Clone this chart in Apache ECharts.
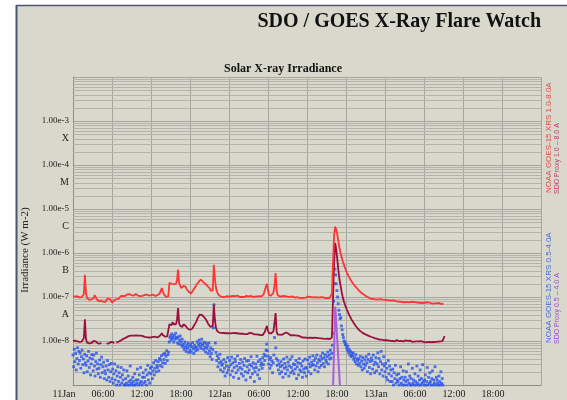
<!DOCTYPE html>
<html>
<head>
<meta charset="utf-8">
<script src="https://cdn.jsdelivr.net/npm/echarts@6/dist/echarts.min.js"></script>
<style>
  html, body { margin: 0; padding: 0; background: #fff; }
  #chart { width: 567px; height: 400px; }
</style>
</head>
<body>
<div id="chart"></div>
<script>
// all rows: one row per hour starting 11 Jan 00:00, samples evenly spaced inside the hour

// NOAA GOES-15 XRS 1.0-8.0 A, units of 1e-8 W m-2
const goesLongHourly = [
  [10.5, 9.8, 10.2, 9.6, 10.4, 10.0], [9.7, 10.3, 9.9, 10.6, 11.5, 32], [12, 9.6, 9.0, 8.6, 9.2, 8.8],
  [8.5, 9.4, 11, 10, 8.8, 8.2], [8.0, 7.6, 8.2, 7.4, 7.8, 7.5], [7.8, 8.4, 9.2, 10, 9.0, 8.2],
  [7.5, 7.8, 8.4, 8.2, 8.9, 8.6], [9.0, 9.4, 10.4, 11, 10.6, 10.2], [10.5, 10.9, 11.4, 10.8, 11.6, 11.2],
  [11.0, 11.5, 10.7, 11.3, 11.7, 11.0], [10.8, 11.2, 10.5, 11.0, 10.6, 11.3], [11.1, 10.7, 11.4, 11.0, 10.8, 11.2],
  [11.0, 10.6, 11.3, 10.8, 10.5, 10.9], [11.1, 10.7, 12, 14, 16, 13], [11.5, 10.6, 10.0, 10.3, 10.5, 21],
  [19, 20, 22, 19.5, 21, 20], [24, 42, 21, 18, 16, 17], [18, 19, 17, 15, 14, 13],
  [12.5, 12, 13, 14.5, 16, 17], [19, 21, 22, 24, 25, 23], [22, 21, 20, 19, 18, 17],
  [16, 14, 13, 14, 54, 26], [16, 13, 11.5, 10.8, 10.4, 10.2], [10.0, 10.3, 9.9, 10.2, 10.5, 10.1],
  [10.2, 9.8, 10.4, 10.0, 10.6, 10.3], [10.5, 10.1, 10.7, 10.3, 10.0, 10.4], [10.1, 10.5, 9.9, 10.2, 10.6, 10.0],
  [10.3, 10.0, 10.6, 10.4, 10.1, 10.5], [10.2, 10.7, 10.3, 10.0, 10.4, 10.6], [10.3, 10.8, 11.5, 14, 17, 20],
  [14, 11, 10.6, 10.8, 11.2, 12.5], [18, 35, 14, 11, 10.4, 10.2], [10.0, 10.4, 10.2, 10.6, 10.8, 10.3],
  [10.5, 10.1, 10.7, 10.2, 9.9, 10.3], [10.0, 9.7, 10.2, 9.9, 10.1, 9.6], [9.8, 9.5, 9.9, 9.6, 10.0, 9.7],
  [9.9, 10.2, 9.7, 10.0, 9.6, 9.8], [9.5, 9.8, 9.6, 9.9, 9.4, 9.7], [9.6, 9.9, 9.5, 9.8, 9.7, 9.4],
  [9.7, 9.5, 9.8, 9.6, 9.4, 12], [60, 250, 400, 340, 260, 180], [130, 100, 80, 65, 55, 47],
  [40, 35, 31, 28, 25, 23], [21, 19.5, 18, 17, 16, 15], [14, 13.2, 12.5, 12, 11.5, 11],
  [10.6, 10.2, 9.9, 9.6, 9.4, 9.2], [9.0, 9.3, 8.9, 9.1, 8.7, 9.0], [8.8, 8.6, 8.9, 8.5, 8.7, 8.4],
  [8.6, 8.3, 8.5, 8.2, 8.4, 8.1], [8.3, 8.0, 8.4, 7.9, 8.1, 8.2], [7.9, 8.1, 7.8, 8.0, 7.7, 7.9],
  [7.6, 7.9, 7.7, 8.0, 7.5, 7.8], [7.7, 7.4, 7.8, 7.5, 7.6, 7.3], [7.5, 7.7, 7.4, 7.6, 7.3, 7.5],
  [7.4, 7.2, 7.5, 7.3, 7.6, 7.2], [7.3, 7.5, 7.1, 7.4, 7.2, 7.0], [7.2, 7.0, 7.3, 7.1, 6.9, 7.2],
  [7.1]
];

// SDO proxy 1.0-8.0 A, units of 1e-9 W m-2 (null = no data)
const sdoLongHourly = [
  [10, 9.6, 10.2, 9.4, 9.8, 10.1], [9.5, 10.3, 9.7, 10.0, 11.5, 31], [11, 9.2, 9.5, 8.8, 9.3, 9.0],
  [9.4, 10, 10.6, 9.8, 9.1, 8.8], [9.0, 8.7, 9.2, null, null, null], [null, 8.8, 9.1, 8.7, 9.4, 9.6],
  [9.0, 9.3, 8.9, null, 9.2, 9.5], [9.6, 9.9, 10.2, 10.6, 11, 11.4], [11.6, 12, 12.4, 12.8, 13.1, 12.9],
  [13.3, 13.6, 13.2, 13.8, 13.4, 13.0], [13.2, 12.8, 13.3, 12.9, 13.1, 12.6], [12.4, 12.8, 12.2, 12.6, 12.0, 12.3],
  [12.1, 11.8, 12.4, 12.0, 12.5, 12.2], [12.0, 12.4, 13, 14, 15, 13.5], [13, 12.6, 13.2, 12.8, 13.4, 24],
  [22, 23, 27, 24, 26, 24], [30, 56, 25, 22, 20, 21], [24, 26, 22, 20, 19, 18.5],
  [18, 17.5, 19, 21, 23, 25], [28, 33, 36, 40, 38, 39], [37, 35, 33, 30, 27, 24],
  [22, 21, 20, 22, 67, 30], [20, 17, 16, 15.5, 15, 15.3], [14.8, 15.2, 14.5, 15.0, 14.6, 15.1],
  [15.3, 14.9, 15.5, 15.1, 15.7, 15.2], [15.6, 15.0, 15.4, 14.8, 15.2, 14.6], [14.2, 14.6, 14.0, 14.4, 14.8, 14.3],
  [14.9, 15.3, 14.7, 15.1, 14.5, 14.2], [13.8, 14.1, 13.6, 13.9, 13.4, 13.7], [13.2, 13.6, 14.5, 16, 19, 22],
  [17, 15, 14.6, 15, 15.6, 16.5], [25, 43, 16, 14, 13.6, 14], [14.2, 13.8, 14.4, 14.9, 15.3, 15.6],
  [15.2, 14.6, 13.9, 13.4, 13.1, 13.5], [13.0, 13.4, 12.8, 13.2, 12.7, 13.0], [12.5, 12.1, 12.6, 12.0, 12.4, 11.9],
  [12.2, 11.8, 12.3, 11.9, 12.1, 11.7], [11.6, 11.9, 11.4, 11.8, 11.3, 11.6], [11.2, 11.5, 11.0, 11.3, 10.9, 11.2],
  [11.0, 11.3, 10.8, 11.1, 10.7, 12], [90, 600, 1700, 1200, 700, 400], [250, 180, 130, 100, 80, 68],
  [58, 50, 44, 39, 35, 31], [28, 26, 24, 22, 20.5, 19], [18, 17, 16.2, 15.5, 15, 14.5],
  [14.2, 13.8, 13.5, 13.1, 12.8, 12.5], [12.2, 12.0, 11.7, 11.5, 11.3, 11.2], [11.0, 10.8, 10.6, 10.7, 10.4, 10.5],
  [10.2, 10.4, 10.0, 10.3, 9.9, 10.1], [10.3, 10.0, 10.4, 9.8, 10.1, 10.5], [10.2, 9.9, 10.3, 10.0, 10.4, 9.8],
  [10.0, 10.3, 9.7, 10.1, 9.8, 10.2], [9.9, 9.6, 10.0, 9.7, 10.1, 9.8], [9.5, 9.8, 9.6, 9.9, 9.4, 9.7],
  [9.6, 9.3, 9.7, 9.4, 9.8, 9.5], [9.7, 9.4, 9.8, 9.5, 9.3, 9.6], [9.4, 9.7, 9.5, 9.8, 9.6, 9.9],
  [10, 13]
];

// NOAA GOES-15 XRS 0.5-4.0 A, units of 1e-9 W m-2
const goesShortHourly = [
  [4.8, 2.6, 6.5, 3.4, 5.2, 2.2, 4.0, 7.0, 3.0, 5.8], [3.6, 5.4, 2.4, 4.4, 6.2, 2.9, 3.9, 1.9, 5.0, 3.2],
  [2.8, 4.6, 2.0, 3.5, 5.8, 2.5, 4.1, 1.7, 3.0, 4.9], [3.9, 2.1, 4.8, 2.7, 1.6, 3.4, 5.3, 2.3, 3.0, 1.8],
  [2.4, 3.7, 1.5, 2.9, 4.3, 1.9, 2.6, 3.3, 1.4, 2.1], [1.8, 2.7, 1.3, 3.6, 2.2, 1.5, 2.9, 1.2, 2.0, 3.1],
  [1.4, 2.3, 1.1, 1.8, 3.0, 1.3, 2.1, 1.0, 1.6, 2.6], [1.2, 1.9, 1.0, 1.5, 2.5, 1.1, 1.7, 1.3, 2.2, 1.0],
  [1.0, 1.4, 1.1, 2.1, 1.0, 1.6, 1.2, 1.0, 2.7, 1.3], [1.1, 1.0, 1.5, 1.2, 1.0, 1.8, 1.0, 1.3, 1.1, 2.3],
  [1.3, 1.0, 1.7, 1.1, 2.5, 1.2, 1.0, 1.5, 1.9, 1.1], [1.5, 1.2, 2.2, 1.0, 1.7, 2.8, 1.3, 1.9, 1.1, 2.4],
  [1.8, 2.6, 1.4, 2.1, 3.2, 1.7, 2.4, 3.6, 2.0, 2.8], [2.5, 3.4, 2.1, 4.0, 2.8, 3.7, 4.6, 2.6, 3.2, 5.0],
  [3.8, 5.2, 3.1, 4.5, 6.0, 3.6, 4.9, 5.6, 9.5, 12], [13, 10.5, 14.5, 11.5, 12.5, 9.5, 13.5, 11, 15, 12],
  [11.5, 9, 12.5, 8.5, 10.5, 13, 9.5, 8, 11, 7.5], [8.5, 6.5, 9.5, 7.2, 5.8, 8, 6.8, 9, 5.5, 7.6],
  [6.2, 8.4, 5.6, 7.4, 9.2, 6.6, 5.2, 8, 7, 6], [7.2, 9.6, 6.4, 8.4, 10.5, 7.6, 9, 6.8, 11, 8],
  [8.5, 6.4, 9.4, 7.2, 5.6, 8.8, 6.8, 7.8, 5.2, 9], [6, 4.4, 7, 5.2, 3.8, 6.4, 20, 67, 30, 9],
  [5.5, 3.6, 4.6, 2.6, 4.0, 3.2, 5.0, 2.2, 3.4, 2.8], [3.0, 2.0, 3.8, 2.4, 1.6, 3.3, 2.7, 1.9, 4.2, 2.2],
  [2.6, 3.6, 1.7, 2.9, 4.3, 2.1, 3.2, 1.5, 2.5, 3.9], [3.4, 1.9, 2.7, 4.6, 2.2, 1.4, 3.1, 2.5, 3.8, 1.8],
  [2.3, 3.3, 1.6, 2.8, 4.0, 2.0, 1.3, 3.5, 2.6, 1.9], [3.6, 2.2, 2.9, 1.5, 4.4, 2.7, 1.8, 3.2, 2.4, 1.2],
  [2.0, 3.0, 2.5, 4.5, 1.7, 3.4, 2.2, 1.4, 3.8, 2.8], [3.2, 2.4, 4.2, 2.9, 5.0, 3.6, 4.6, 6.2, 8.5, 6.0],
  [4.5, 3.0, 3.8, 2.4, 4.2, 2.8, 3.5, 1.9, 3.2, 4.8], [12, 25, 7, 4.0, 2.8, 3.6, 2.2, 3.0, 1.8, 2.6],
  [3.4, 2.0, 2.8, 1.5, 3.9, 2.4, 3.1, 1.8, 2.6, 4.3], [2.2, 3.3, 1.6, 2.7, 3.8, 1.9, 2.5, 4.4, 2.1, 3.0],
  [1.8, 2.9, 2.3, 3.6, 1.4, 2.6, 3.2, 1.7, 4.0, 2.2], [3.1, 2.0, 2.7, 1.5, 3.5, 2.3, 1.9, 3.9, 2.5, 1.6],
  [2.4, 3.7, 2.0, 3.0, 4.3, 2.6, 1.8, 3.3, 2.8, 4.6], [2.9, 3.6, 2.2, 4.1, 2.7, 4.8, 3.2, 2.0, 3.8, 2.5],
  [3.5, 4.5, 2.8, 3.9, 5.3, 3.1, 4.2, 2.6, 4.9, 3.7], [3.3, 4.4, 5.6, 3.0, 4.8, 3.9, 6.2, 4.1, 5.2, 8],
  [15, 80, 200, 430, 320, 200, 140, 100, 70, 50], [40, 32, 34, 22, 18, 14, 12, 10, 9.5, 8.2],
  [8.5, 7.0, 6.2, 7.6, 5.5, 6.4, 4.8, 5.8, 4.4, 5.2], [4.6, 5.4, 3.8, 4.2, 3.4, 4.9, 3.0, 4.0, 3.6, 2.8],
  [3.9, 3.1, 4.5, 2.6, 3.5, 2.2, 4.2, 3.0, 2.4, 3.7], [2.8, 4.4, 3.2, 2.0, 3.8, 5.0, 2.5, 3.4, 1.8, 4.1],
  [3.6, 2.3, 4.8, 2.9, 1.9, 3.3, 4.2, 2.1, 3.0, 5.4], [2.6, 4.0, 1.8, 3.4, 5.8, 2.2, 3.0, 1.6, 4.4, 2.7],
  [2.0, 3.1, 1.5, 2.4, 1.3, 3.6, 1.8, 2.7, 1.2, 2.2], [1.6, 1.2, 2.3, 1.0, 1.9, 1.4, 2.8, 1.1, 1.7, 1.3],
  [1.2, 1.8, 1.0, 1.4, 2.6, 1.1, 1.5, 1.0, 2.1, 1.3], [1.0, 1.5, 1.2, 2.0, 1.0, 1.3, 3.0, 1.1, 1.6, 1.0],
  [1.4, 1.0, 2.4, 1.1, 1.3, 1.0, 1.8, 1.2, 1.0, 2.7], [1.1, 1.6, 1.0, 1.3, 2.2, 1.0, 1.4, 1.1, 2.9, 1.2],
  [1.0, 1.3, 1.7, 1.0, 1.2, 2.5, 1.0, 1.5, 1.1, 1.9], [1.2, 1.0, 1.4, 2.1, 1.0, 1.3, 1.1, 2.6, 1.0, 1.5],
  [1.3, 1.1, 1.0, 1.6, 1.2, 1.0, 2.0, 1.1, 1.4, 1.0]
];

// SDO proxy 0.5-4.0 A: [hour, W m-2], only rises above the axis floor during the flare
const sdoShort = [[40.0, 8e-10], [40.35, 6.1e-8], [41.1, 8e-10]];

const dayLabels = ["11Jan", "12Jan", "13Jan", ""];
const classLetters = ["A", "B", "C", "M", "X"];
const classLevels = [-7.4, -6.4, -5.4, -4.4, -3.4]; // log10 position of each letter

function expand(rows, unit) {
  var out = [];
  rows.forEach(function (row, h) {
    var n = row.length < 6 ? 6 : row.length;
    row.forEach(function (v, i) {
      out.push([h + i / n, v == null ? null : v * unit]);
    });
  });
  return out;
}
const goesLong = expand(goesLongHourly, 1e-8);
const sdoLong = expand(sdoLongHourly, 1e-9);
const goesShort = expand(goesShortHourly, 1e-9);

// log grid lines 2..9 inside every decade
const minorLevels = [];
for (let d = -9; d < -2; d++) {
  for (let k = 2; k <= 9; k++) minorLevels.push([0, k * Math.pow(10, d)]);
}

const serif = "'Liberation Serif', 'Times New Roman', serif";
const sans = "'Liberation Sans', Arial, sans-serif";

var chart = echarts.init(document.getElementById("chart"), null, { renderer: "canvas" });
var option = {
  backgroundColor: "#ffffff",
  animation: false,
  title: [
    {
      text: "SDO / GOES X-Ray Flare Watch",
      right: 21,
      top: 7,
      textStyle: { fontFamily: serif, fontSize: 20, fontWeight: "bold", color: "#111" },
    },
    {
      text: "Solar X-ray Irradiance",
      left: 278,
      top: 58,
      textAlign: "center",
      textStyle: { fontFamily: serif, fontSize: 12, fontWeight: "bold", color: "#111" },
    },
  ],
  graphic: [
    { type: "rect", z: -10, shape: { x: 16, y: 5, width: 551, height: 395 }, style: { fill: "#d8d8cc" } },
    { type: "line", z: -9, shape: { x1: 16.5, y1: 5, x2: 16.5, y2: 400 }, style: { stroke: "#4b5570", lineWidth: 2 } },
    { type: "line", z: -9, shape: { x1: 16, y1: 5.5, x2: 567, y2: 5.5 }, style: { stroke: "#4b5570", lineWidth: 1.5 } },
    {
      type: "text", x: 25, y: 250, rotation: Math.PI / 2,
      style: { text: "Irradiance (W m-2)", font: "11px " + serif, fill: "#222", align: "center", verticalAlign: "middle" },
    },
    {
      type: "text", x: 549, y: 193, rotation: Math.PI / 2,
      style: { text: "NOAA GOES-15 XRS 1.0-8.0A", font: "8px " + sans, fill: "#e24a4a", align: "left", verticalAlign: "middle" },
    },
    {
      type: "text", x: 557, y: 194, rotation: Math.PI / 2,
      style: { text: "SDO Proxy 1.0 \u2013 8.0 A", font: "7px " + sans, fill: "#bb3a6a", align: "left", verticalAlign: "middle" },
    },
    {
      type: "text", x: 549, y: 343, rotation: Math.PI / 2,
      style: { text: "NOAA GOES-15 XRS 0.5-4.0A", font: "8px " + sans, fill: "#4a68dc", align: "left", verticalAlign: "middle" },
    },
    {
      type: "text", x: 557, y: 344, rotation: Math.PI / 2,
      style: { text: "SDO Proxy 0.5 \u2013 4.0 A", font: "7px " + sans, fill: "#9a4ccc", align: "left", verticalAlign: "middle" },
    },
  ],
  grid: { left: 73, right: 26, top: 77, bottom: 15, containLabel: false },
  xAxis: {
    type: "value",
    min: 0,
    max: 72,
    interval: 6,
    axisLine: { lineStyle: { color: "#8c8c86", width: 1 } },
    axisTick: { show: false },
    axisLabel: {
      color: "#222",
      fontFamily: serif,
      fontSize: 10,
      margin: 4,
      padding: [0, 18, 0, 0],
      showMinLabel: true,
      showMaxLabel: true,
      formatter: function (v) {
        var day = Math.floor(v / 24);
        var hr = Math.round(v - day * 24);
        if (hr === 0) return dayLabels[day] || "";
        return (hr < 10 ? "0" : "") + hr + ":00";
      },
    },
    splitLine: { show: true, lineStyle: { color: "#a6a69e", width: 1 } },
  },
  yAxis: [
    {
      type: "log",
      logBase: 10,
      min: 1e-9,
      max: 1e-2,
      splitNumber: 7,
      axisLine: { show: true, lineStyle: { color: "#8c8c86" } },
      axisTick: { show: false },
      axisLabel: {
        color: "#222",
        fontFamily: serif,
        fontSize: 9,
        margin: 4,
        formatter: function (v) {
          var e = Math.round(Math.log10(v));
          if (e <= -9 || e >= -2) return "";
          return "1.00e" + e;
        },
      },
      splitLine: { show: true, lineStyle: { color: "#a6a69e", width: 1 } },
    },
    {
      type: "value",
      min: -9,
      max: -2,
      interval: 0.1,
      position: "left",
      axisLine: { show: false },
      axisTick: { show: false },
      splitLine: { show: false },
      axisLabel: {
        interval: 0,
        color: "#222",
        fontFamily: serif,
        fontSize: 10,
        margin: 4,
        formatter: function (v) {
          for (var i = 0; i < classLevels.length; i++) {
            if (Math.abs(v - classLevels[i]) < 0.01) return classLetters[i];
          }
          return "";
        },
      },
    },
  ],
  series: [
    {
      // minor log grid lines, placed through the y scale
      name: "grid",
      type: "custom",
      silent: true,
      z: 1,
      data: minorLevels,
      encode: { x: 0, y: 1 },
      renderItem: function (params, api) {
        var cs = params.coordSys;
        var y = Math.round(api.coord([0, api.value(1)])[1]) + 0.5;
        return {
          type: "line",
          shape: { x1: cs.x, y1: y, x2: cs.x + cs.width, y2: y },
          style: { stroke: "#b3b3ab", lineWidth: 1 },
        };
      },
    },
    {
      name: "NOAA GOES-15 XRS 0.5-4.0A",
      type: "scatter",
      data: goesShort,
      symbol: "rect",
      symbolSize: 2.8,
      itemStyle: { color: "#2553ee" },
    },
    {
      name: "SDO Proxy 0.5 - 4.0 A",
      type: "line",
      data: sdoShort,
      showSymbol: false,
      lineStyle: { color: "#a860d8", width: 2 },
    },
    {
      name: "SDO Proxy 1.0 - 8.0 A",
      type: "line",
      data: sdoLong,
      showSymbol: false,
      connectNulls: false,
      lineStyle: { color: "#9e103c", width: 1.8 },
    },
    {
      name: "NOAA GOES-15 XRS 1.0-8.0A",
      type: "line",
      data: goesLong,
      showSymbol: false,
      lineStyle: { color: "#ff3434", width: 1.8 },
    },
  ],
};
chart.setOption(option);
</script>
</body>
</html>
